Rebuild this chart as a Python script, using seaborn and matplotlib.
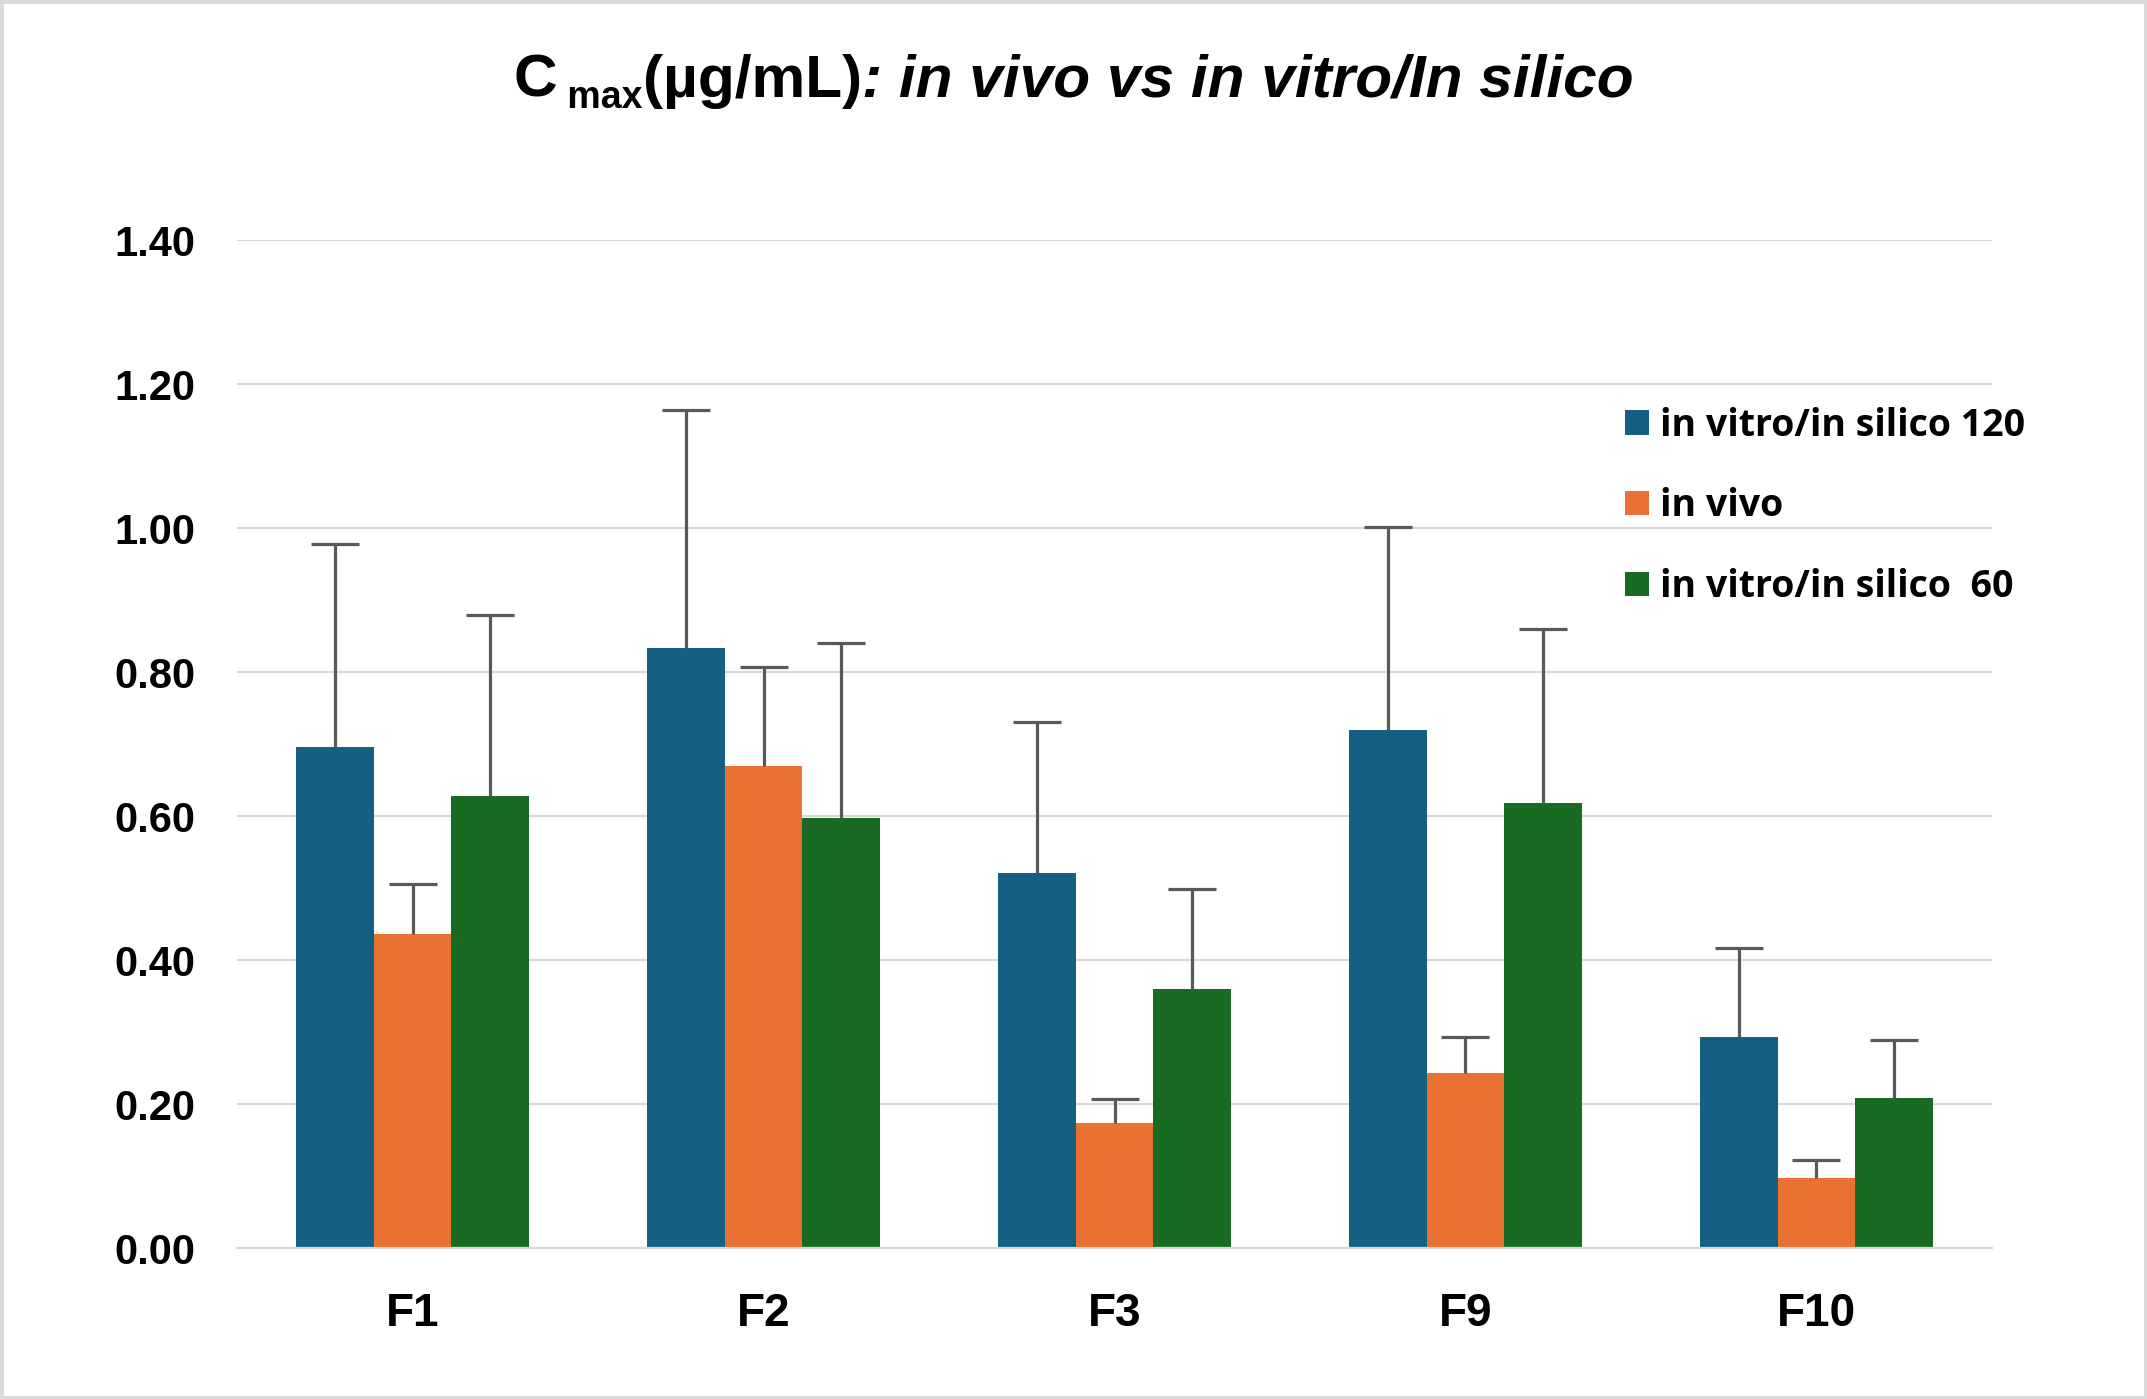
import matplotlib
matplotlib.use("Agg")
import matplotlib.pyplot as plt
from matplotlib.patches import Rectangle
import seaborn as sns
import pandas as pd
import numpy as np

# Data (Cmax, ug/mL, mean and upper SD)
formulations = ["F1", "F2", "F3", "F9", "F10"]
series = ["in vitro/in silico 120", "in vivo", "in vitro/in silico  60"]
mean_120 = [0.696, 0.833, 0.521, 0.719, 0.293]
mean_vivo = [0.436, 0.670, 0.173, 0.243, 0.097]
mean_60 = [0.628, 0.597, 0.360, 0.618, 0.209]
sd_120 = [0.282, 0.331, 0.209, 0.283, 0.124]
sd_vivo = [0.070, 0.137, 0.034, 0.050, 0.025]
sd_60 = [0.251, 0.244, 0.138, 0.242, 0.080]
y_ticks = [0.0, 0.2, 0.4, 0.6, 0.8, 1.0, 1.2, 1.4]

colors = ["#156082", "#E97132", "#196B24"]
grid_color = "#D9D9D9"
err_color = "#595959"

df = pd.DataFrame({
    "Formulation": formulations * 3,
    "Series": np.repeat(series, len(formulations)),
    "Cmax": mean_120 + mean_vivo + mean_60,
})

sns.set_style("white")
plt.rcParams["font.family"] = ["Liberation Sans", "DejaVu Sans"]
plt.rcParams["text.color"] = "black"
plt.rcParams["xtick.color"] = "black"
plt.rcParams["ytick.color"] = "black"

fig = plt.figure(figsize=(21.47, 13.99), dpi=100)
ax = fig.add_axes([0.1104, 0.1079, 0.8174, 0.7205])

sns.barplot(data=df, x="Formulation", y="Cmax", hue="Series", hue_order=series,
            palette=colors, width=0.665, errorbar=None, saturation=1,
            linewidth=0, ax=ax)

# upper-only error bars on each bar (hide the lower cap)
for container, sds in zip(ax.containers, [sd_120, sd_vivo, sd_60]):
    for bar, s in zip(container, sds):
        xc = bar.get_x() + bar.get_width() / 2
        eb = ax.errorbar(xc, bar.get_height(), yerr=[[0], [s]], fmt="none",
                         ecolor=err_color, elinewidth=2.3, capsize=17, capthick=2.3,
                         zorder=5)
        eb[1][0].set_visible(False)

ax.set_xlim(-0.5, len(formulations) - 0.5)
ax.set_ylim(0, 1.4)
ax.set_yticks(y_ticks)
ax.set_yticklabels([f"{v:.2f}" for v in y_ticks])
ax.set_xlabel("")
ax.set_ylabel("")
ax.set_axisbelow(True)
ax.yaxis.grid(True, color=grid_color, linewidth=1.6)
ax.xaxis.grid(False)
for side in ["top", "right", "left"]:
    ax.spines[side].set_visible(False)
ax.spines["bottom"].set_color(grid_color)
ax.spines["bottom"].set_linewidth(1.6)
ax.tick_params(axis="y", length=0, pad=30, labelsize=30)
ax.tick_params(axis="x", length=0, pad=32, labelsize=33)
for lab in ax.get_xticklabels() + ax.get_yticklabels():
    lab.set_fontweight("bold")

ax.legend(loc="center left", bbox_to_anchor=(0.757, 0.638), bbox_transform=fig.transFigure,
          frameon=False, borderpad=0, borderaxespad=0, handlelength=0.62, handleheight=0.62,
          handletextpad=0.3, labelspacing=1.14,
          prop={"family": ["Open Sans", "DejaVu Sans"], "weight": "bold", "size": 27})

# title built from pieces: C, subscript max, units, italic part
yb = 0.931
pieces = [
    ("C", 43.5, "normal", 0.0),
    (" max", 27, "normal", -0.008),
    ("(µg/mL)", 43.5, "normal", 0.0),
    (": in vivo vs in vitro/In silico", 43.5, "italic", 0.0),
]
texts = []
for s, size, style, dy in pieces:
    t = fig.text(0, yb + dy, s, fontsize=size, fontweight="bold", fontstyle=style,
                 va="baseline", ha="left")
    texts.append(t)
fig.canvas.draw()
renderer = fig.canvas.get_renderer()
widths = [t.get_window_extent(renderer).width / fig.bbox.width for t in texts]
x = 0.5 - sum(widths) / 2
for t, w in zip(texts, widths):
    t.set_x(x)
    x += w

fig.patches.append(Rectangle((0, 0), 1, 1, transform=fig.transFigure, fill=False,
                             edgecolor=grid_color, linewidth=5))

plt.savefig("out.png", dpi=100)
